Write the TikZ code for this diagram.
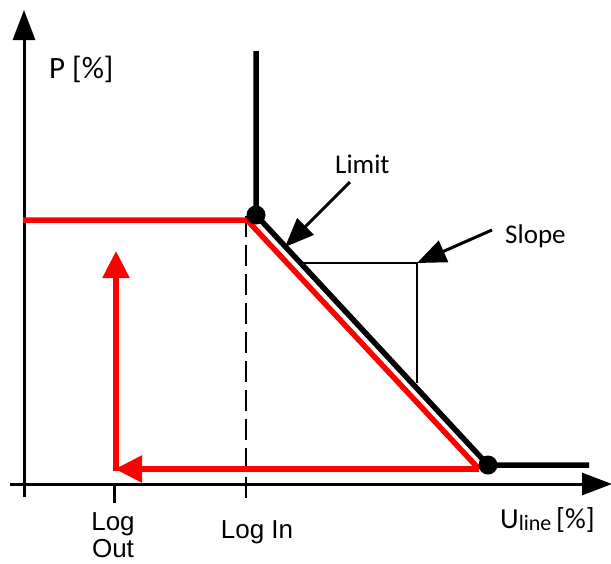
\documentclass[tikz,border=0pt]{standalone}
\usepackage{fontspec}
\setmainfont{Carlito}
\newfontfamily\arialfont{Liberation Sans}
\usetikzlibrary{arrows.meta}

\begin{document}
\begin{tikzpicture}[x=1pt, y=-1pt,
  axis/.style={line width=3pt, -{Triangle[length=30pt,width=22pt]}},
  curve/.style={line width=5.5pt, line join=miter},
  redline/.style={curve, red},
  redarrow/.style={line width=5.5pt, red, -{Triangle[length=27pt,width=26pt]}},
  pointer/.style={line width=3pt, -{Triangle[length=29pt,width=23pt]}},
  dot/.style={circle, fill=black, inner sep=0pt, minimum size=19pt},
  lbl/.style={font=\fontsize{27}{32}\selectfont, inner sep=0pt},
  ticklbl/.style={font=\arialfont\fontsize{26}{27}\selectfont, inner sep=0pt, align=center}]
\useasboundingbox (0,0) rectangle (611,563);

% axes
\coordinate (ybot) at (24,497);
\coordinate (ytop) at (24,10);
\coordinate (xleft) at (10,484);
\coordinate (xright) at (612,484);
\draw[axis] (ybot) -- (ytop);
\draw[axis] (xleft) -- (xright);
\node[lbl, anchor=base west, font=\fontsize{31}{32}\selectfont] (plabel) at (49,78) {P [\%]};
\node[lbl, anchor=base west, font=\fontsize{29}{32}\selectfont] (ulabel) at (500,528)
  {U\raisebox{-2.5pt}{\fontsize{22}{22}\selectfont line}\,[\%]};

% ticks
\coordinate (outtop) at (114,484);
\coordinate (outbot) at (114,503);
\draw[line width=3pt] (outtop) -- (outbot);
\coordinate (intop) at (246,216);
\coordinate (inbot) at (246,503);
\draw[line width=2.6pt, dash pattern=on 21pt off 8pt] (intop) -- (inbot);
\node[ticklbl, anchor=base] (logout) at (113,557) {Log\\Out};
\node[ticklbl, anchor=base] (login) at (257,538) {Log In};

% red characteristic
\coordinate (r0) at (23,220);
\coordinate (r1) at (247,220);
\coordinate (r2) at (479,469);
\coordinate (r3) at (115,469);
\coordinate (r4) at (116,471);
\coordinate (r5) at (116,251);
\draw[redline] (r0) -- (r1) -- (r2);
\draw[redarrow] (r2) -- (r3);
\draw[redarrow] (r4) -- (r5);

% black limit
\coordinate (b0) at (256,51);
\node[dot] (kin) at (256,215) {};
\node[dot] (kout) at (488,465) {};
\coordinate (b3) at (589,465);
\draw[curve] (b0) -- (kin.center) -- (kout.center) -- (b3);

% slope triangle
\coordinate (s0) at (300,263);
\coordinate (s1) at (417,263);
\coordinate (s2) at (417,383);
\draw[line width=2.2pt] (s0) -- (s1) -- (s2);

% annotations
\node[lbl, anchor=base west] (limit) at (335,173) {Limit};
\node[lbl, anchor=base west] (slope) at (505,243) {Slope};
\coordinate (limfrom) at (350,182);
\coordinate (limto) at (285,247);
\coordinate (slfrom) at (492,230);
\draw[pointer] (limfrom) -- (limto);
\draw[pointer] (slfrom) -- (s1);
\end{tikzpicture}
\end{document}
